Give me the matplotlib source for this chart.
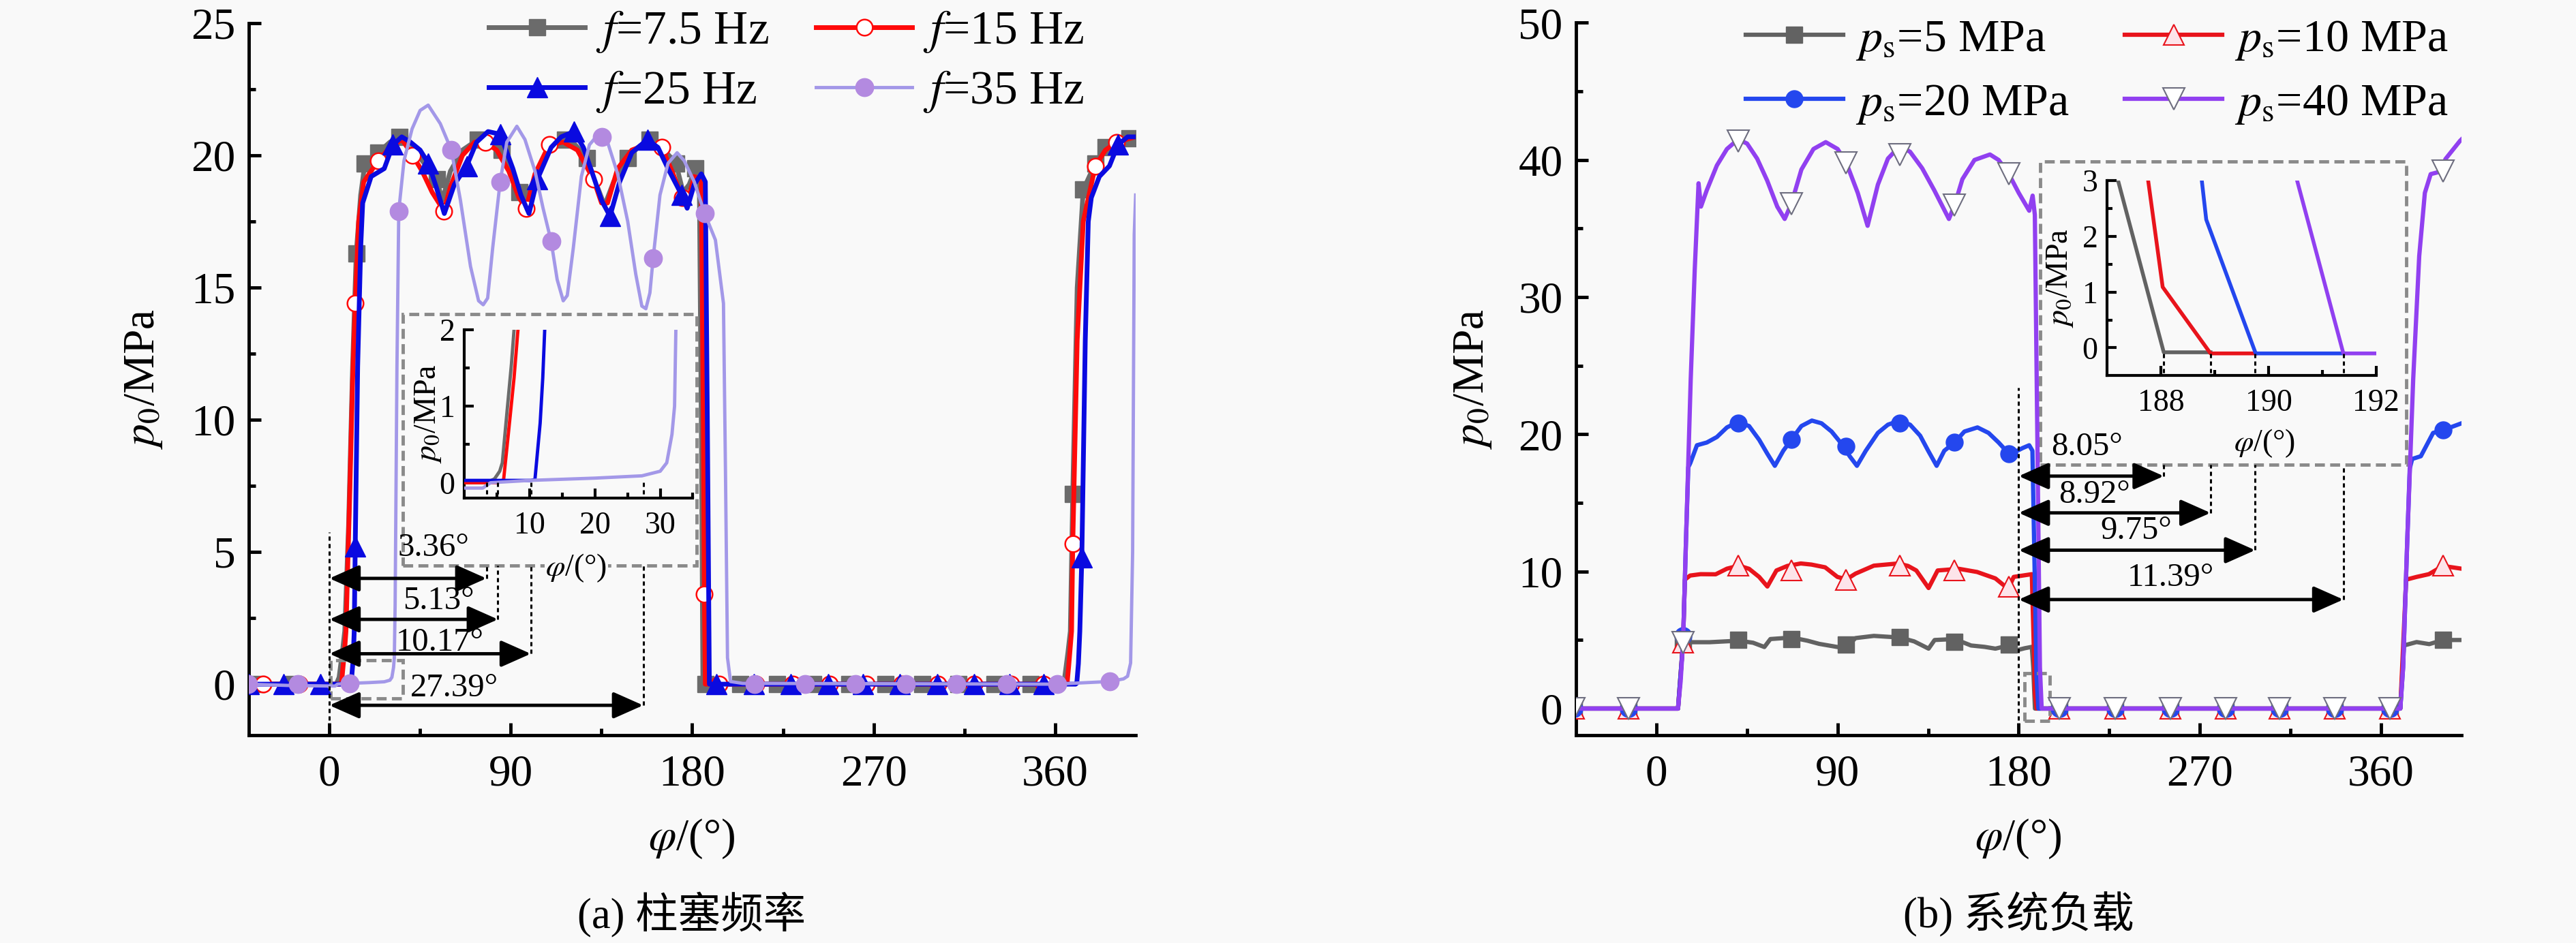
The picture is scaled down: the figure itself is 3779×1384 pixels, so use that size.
import matplotlib
matplotlib.use("Agg")
import matplotlib.pyplot as plt
from matplotlib.lines import Line2D
from matplotlib.patches import Rectangle
from matplotlib.ticker import FixedLocator

plt.rcParams['font.family'] = ['Liberation Serif', 'Noto Sans CJK SC']
plt.rcParams['mathtext.fontset'] = 'stix'
plt.rcParams['axes.unicode_minus'] = False

BG = '#f9f9f9'

# ---------------- (a) plunger frequency ----------------
phi_f75 = [-40, 3.4, 4.8, 6.4, 7.6, 9.5, 11.5, 13.3, 15.5, 17.6, 24.1, 30, 34.9, 40, 46,
           53.2, 56, 60, 66, 73.7, 80, 85.6, 90, 94.2, 97.5, 102, 109, 116.9, 122, 127.7,
           132, 136.5, 141, 148.2, 153, 158.9, 165, 171.9, 175.5, 178.5, 181.6, 183.5, 184.5,
           185.3, 363.4, 364.8, 366.4, 367.6, 368.8, 371, 374, 380, 385, 392, 400]
p_f75 = [0, 0, 0.26, 1.2, 2.0, 6, 12, 16.3, 18.5, 19.7, 20.1, 20.5, 20.7, 20.5, 19.8,
         19.1, 18.3, 19.4, 20.2, 20.6, 20.5, 20.2, 19.4, 18.6, 18.1, 19.2, 20.2, 20.6, 20.4, 19.9,
         19.0, 18.1, 19.0, 19.9, 20.3, 20.6, 20.3, 19.7, 18.6, 18.9, 19.5, 19.2, 10,
         0, 0, 0.26, 1.2, 2.0, 7.2, 15, 18.7, 19.7, 20.3, 20.6, 20.7]
mk_phi_f75 = [-36, -18, 13.3, 17.6, 24.1, 34.9, 53.2, 73.7, 85.6, 94.2, 116.9, 127.7, 148.2,
              158.9, 171.9, 181.6, 186.5, 204, 222, 240, 258, 276, 294, 312, 330, 348,
              368.8, 374, 380, 385, 397]
mk_p_f75 = [0, 0, 16.3, 19.7, 20.1, 20.7, 19.1, 20.6, 20.2, 18.6, 20.6, 19.9, 19.9,
            20.6, 19.7, 19.5, 0, 0, 0, 0, 0, 0, 0, 0, 0, 0,
            7.2, 18.7, 19.7, 20.3, 20.65]

phi_f15 = [-40, 5.13, 6.0, 6.8, 7.6, 8.2, 10, 11.5, 12.8, 14.5, 17, 24.2, 30, 36, 41.3,
           46, 51, 56.8, 60, 66, 72, 77.2, 83, 89, 94, 97.6, 102, 109, 116, 123,
           131, 135, 138, 143, 150, 157, 164.9, 170, 175, 177.5, 181, 184.5, 185.5, 186, 186.5,
           365.1, 366, 366.8, 368.2, 368.8, 371, 374, 380, 385, 390.4, 400]
p_f15 = [0, 0, 0.04, 0.7, 1.37, 2.0, 7, 11.5, 14.4, 17.5, 19.0, 19.8, 20.3, 20.6, 20.0,
         19.4, 18.6, 17.9, 18.8, 20.0, 20.5, 20.5, 20.2, 19.4, 18.4, 18.0, 19.3, 20.4, 20.5, 20.2,
         19.1, 18.2, 18.2, 19.5, 20.2, 20.4, 20.3, 19.4, 18.4, 18.2, 19.2, 19.1, 10, 3.4, 0,
         0, 0.04, 0.7, 2.0, 5.3, 13, 17.5, 19.6, 20.2, 20.5, 20.7]
mk_phi_f15 = [-33, -15, 12.8, 24.2, 41.3, 56.8, 77.2, 97.6, 109, 131, 164.9, 175, 186,
              193.4, 211.6, 230, 248, 266.5, 284, 302, 320, 338, 354.5, 368.8, 380, 390.4]
mk_p_f15 = [0, 0, 14.4, 19.8, 20.0, 17.9, 20.5, 18.0, 20.4, 19.1, 20.3, 18.4, 3.4,
            0, 0, 0, 0, 0, 0, 0, 0, 0, 0, 5.3, 19.6, 20.5]

phi_f25 = [-40, 10.17, 10.8, 11.6, 12.0, 12.3, 12.8, 14, 15.5, 16.5, 20.7, 27.2, 31.5, 35.9,
           40.2, 45, 49.1, 53, 57, 62, 68.1, 73, 78.7, 84.7, 91, 95, 99, 103.2, 110, 115,
           121.4, 126, 131, 135, 139.2, 144, 150, 157.8, 163, 168, 174.8, 177.5, 181, 184.5,
           186.5, 187.5, 188.5, 370.2, 370.8, 371.6, 372.3, 373.3, 375, 376.5, 378, 382, 387,
           391.2, 396, 400]
p_f25 = [0, 0, 0.04, 0.78, 1.37, 2.0, 5.2, 12, 16.5, 18.2, 19.2, 19.5, 20.4, 20.7,
         20.5, 20.2, 19.7, 18.8, 17.8, 18.9, 19.6, 20.5, 20.9, 20.8, 19.5, 18.5, 17.8, 19.1, 20.3, 20.7,
         20.9, 20.3, 19.2, 18.3, 17.7, 19.0, 20.1, 20.6, 20.3, 19.5, 18.5, 18.0, 18.9, 19.3,
         19.0, 10, 0, 0, 0.04, 0.78, 2.0, 4.8, 13, 17.5, 18.4, 19.2, 19.6,
         20.4, 20.7, 20.7]
mk_phi_f25 = [-40, -22.7, -4.4, 12.8, 31.5, 49.1, 68.1, 84.7, 103.2, 121.4, 139.2, 157.8, 174.8,
              192, 210.6, 229, 247.5, 264.8, 283, 301.6, 320, 337.4, 354.5, 373.3, 391.2]
mk_p_f25 = [0, 0, 0, 5.2, 20.4, 19.7, 19.6, 20.8, 19.1, 20.9, 17.7, 20.6, 18.5,
            0, 0, 0, 0, 0, 0, 0, 0, 0, 0, 4.8, 20.4]

phi_f35 = [-40, -20, 0, 2.8, 4, 10, 20, 27.2, 30, 31, 31.8, 32.2, 32.6, 33.5, 34.4, 37, 41, 45,
           49, 55, 60.5, 65, 70, 74, 76.3, 78.5, 81, 84.7, 88, 93, 97, 102, 106, 110, 113, 116,
           118, 121, 125, 129, 134.5, 138, 143, 148, 152, 155, 157, 159, 160.6, 164, 168, 172.5,
           176, 181, 186.2, 191.5, 195.5, 196.5, 197.5, 199, 205, 360, 387, 394, 396, 397.5,
           398.5, 399.3, 400]
p_f35 = [0, -0.05, -0.07, -0.07, 0, 0.03, 0.06, 0.09, 0.15, 0.26, 0.63, 1.0, 3, 12, 17.9, 19.8,
         21.0, 21.7, 21.9, 21.2, 20.2, 18.3, 15.8, 14.5, 14.35, 14.6, 16.5, 19.0, 20.5, 21.1, 20.6,
         19.4, 18.0, 16.75, 15.3, 14.5, 14.7, 16.5, 19.2, 20.4, 20.9, 20.5, 19.3, 17.5, 15.5, 14.3,
         14.2, 14.8, 16.1, 18.5, 19.7, 20.1, 19.8, 19.0, 17.8, 16.8, 14.4, 8, 1, 0.1, 0.03, 0,
         0.1, 0.2, 0.3, 0.8, 5, 17, 18.5]
mk_phi_f35 = [-40.5, -15.5, 9.9, 34.4, 60.5, 84.7, 110, 135.3, 160.6, 186.2, 211, 236, 261,
              286, 311, 336, 361, 387]
mk_p_f35 = [0, 0, 0.03, 17.9, 20.2, 19.0, 16.75, 20.7, 16.1, 17.8, 0, 0, 0, 0, 0, 0, 0, 0.1]

# zoomed rise (inset of a)
ins_phi_f75 = [0, 3.36, 4.6, 5.4, 5.8, 6.6, 7.2, 7.6]
ins_p_f75 = [0.0, 0.0, 0.05, 0.15, 0.26, 1.0, 1.55, 2.0]
ins_phi_f15 = [0, 5.13, 6.0, 6.8, 7.6, 8.2]
ins_p_f15 = [0.0, 0.0, 0.04, 0.7, 1.37, 2.0]
ins_phi_f25 = [0, 10.17, 10.8, 11.6, 12.0, 12.3]
ins_p_f25 = [0.03, 0.03, 0.04, 0.78, 1.37, 2.0]
ins_phi_f35 = [0, 2.8, 4, 10, 20, 27.2, 30, 31, 31.8, 32.2, 32.4]
ins_p_f35 = [-0.07, -0.07, 0, 0.03, 0.06, 0.09, 0.15, 0.26, 0.63, 1.0, 2.0]
delay_a = [3.36, 5.13, 10.17, 27.39]

# ---------------- (b) system load ----------------
phi_p5 = [-40, 10.7, 12, 13.2, 16.7, 26.4, 40.9, 48, 53.6, 56.6, 67.2, 75, 80.8, 89.9, 94.4,
          98.9, 108, 121, 128, 132.1, 135.2, 138.2, 148.2, 156.3, 163, 168.4, 175, 179, 183,
          186.5, 187.2, 188.05, 369.6, 371.4, 377.7, 384, 390.8, 400]
p_p5 = [0, 0, 2.5, 4.8, 4.84, 4.84, 4.95, 4.8, 4.49, 5.07, 5.18, 4.95, 4.72, 4.49, 4.49,
        5.14, 5.3, 5.18, 4.9, 4.6, 4.37, 5.0, 5.07, 4.6, 4.5, 4.37, 4.6, 4.25, 4.4,
        4.5, 3.0, 0, 0, 4.6, 4.85, 4.7, 5.0, 5.0]
phi_p10 = [-40, 10.7, 13.2, 14.1, 16.7, 21.9, 29.4, 35, 40.9, 46, 51, 55.1, 59.6, 65, 71.7,
           77, 83.8, 89.9, 94.4, 98.9, 108, 120, 125, 129.1, 135.2, 139.7, 150.3, 159.3, 168.4,
           172.5, 175, 177.5, 182, 186.5, 187.76, 188.03, 188.92, 369.6, 372.5, 377.7, 383.8,
           390.8, 400]
p_p10 = [0, 0, 4.84, 9.4, 9.7, 9.8, 9.79, 10.2, 10.42, 10.19, 9.6, 8.9, 10.07, 10.4, 10.58,
         10.5, 10.3, 9.6, 9.42, 9.84, 10.42, 10.58, 10.4, 10.07, 8.79, 10.07, 10.19, 9.96, 9.49,
         9.0, 8.8, 9.6, 9.7, 9.8, 3.0, 1.09, 0, 0, 9.4, 9.6, 9.8,
         10.4, 10.2]
phi_p20 = [-40, 10.7, 13.2, 14.7, 15.8, 16.8, 20.1, 25, 30, 35, 40.5, 46, 51, 55, 58.8, 63, 67,
           72, 77.2, 82, 87, 92, 96, 99.6, 104, 110, 115, 120.8, 126, 131, 135, 139.2, 143,
           148.1, 153, 159.5, 165, 170, 175, 178, 182, 185.2, 186.8, 188.6, 188.76, 188.84,
           189.76, 369.6, 371, 373, 374.3, 375.5, 379.8, 385.9, 390.8, 400]
p_p20 = [0, 0, 4.84, 12.5, 17.6, 17.9, 19.2, 19.4, 19.8, 20.5, 20.9, 20.6, 19.6, 18.6, 17.7, 18.8,
         19.6, 20.6, 21.0, 20.8, 20.2, 19.3, 18.4, 17.7, 18.8, 20.1, 20.7, 21.0, 20.7, 19.9, 18.8,
         17.7, 18.8, 19.4, 20.2, 20.5, 20.1, 19.4, 18.6, 18.7, 19.0, 19.2, 18.8, 4.5, 2.98, 2.3,
         0, 0, 3, 12, 17.5, 18.2, 18.4, 20.1, 20.3, 20.8]
phi_p40 = [-40, 10.7, 12, 13.2, 15, 17, 19, 20.9, 22.1, 25, 30, 35, 40.5, 45, 50, 55, 60, 63.7,
           67, 72, 78, 84.1, 90, 94.3, 100, 104.9, 110, 115, 120.8, 126, 132, 138, 145.3, 148.1,
           152, 158, 165.7, 170, 175, 180, 185.2, 186.9, 188, 190.3, 190.53, 191.39, 369.6, 371,
           373, 376, 379, 381.8, 384.7, 390.8, 392, 399.3, 400]
p_p40 = [0, 0, 2, 4.84, 14, 24, 32, 38.3, 36.6, 37.8, 39.6, 40.8, 41.5, 41.2, 40.1, 38.5, 36.6,
         35.7, 36.8, 39.3, 40.8, 41.3, 40.8, 39.8, 37.6, 35.2, 38.2, 40.1, 41.0, 40.6, 39.4, 37.8,
         35.7, 36.7, 38.6, 40.0, 40.4, 40.0, 39.0, 37.6, 36.3, 37.4, 36, 6, 3.0, 0, 0, 3,
         12, 24, 33, 37.6, 38.97, 39.2, 40.06, 41.4, 41.5]
mk_phi_ps = [-41, -13.8, 13.2, 40.5, 67, 94.3, 120.8, 148.1, 175, 200.3, 228, 255.4, 282.7,
             309.6, 337, 364.3, 390.8]
mk_p_p5 = [0, 0, 4.8, 5.0, 5.05, 4.66, 5.2, 4.85, 4.66, 0, 0, 0, 0, 0, 0, 0, 5.0]
mk_p_p10 = [0, 0, 4.84, 10.45, 10.1, 9.4, 10.45, 10.1, 8.9, 0, 0, 0, 0, 0, 0, 0, 10.45]
mk_p_p20 = [0, 0, 5.3, 20.8, 19.6, 19.1, 20.8, 19.4, 18.6, 0, 0, 0, 0, 0, 0, 0, 20.3]
mk_p_p40 = [0, 0, 4.84, 41.4, 36.8, 39.8, 40.4, 36.7, 39.0, 0, 0, 0, 0, 0, 0, 0, 39.2]

# zoomed fall (inset of b)
ins_phi_p5 = [187.2, 188.05, 188.92]
ins_p_p5 = [3.0, -0.08, -0.08]
ins_phi_p10 = [187.76, 188.03, 188.92, 189.76]
ins_p_p10 = [3.0, 1.09, -0.1, -0.1]
ins_phi_p20 = [188.76, 188.84, 189.76, 191.39]
ins_p_p20 = [2.98, 2.3, -0.1, -0.1]
ins_phi_p40 = [190.53, 191.39, 192.0]
ins_p_p40 = [3.0, -0.1, -0.1]
delay_b = [8.05, 8.92, 9.75, 11.39]

labels_a = [r'$f$=7.5 Hz', r'$f$=15 Hz', r'$f$=25 Hz', r'$f$=35 Hz']
labels_b = [r'$p_\mathrm{s}$=5 MPa', r'$p_\mathrm{s}$=10 MPa',
            r'$p_\mathrm{s}$=20 MPa', r'$p_\mathrm{s}$=40 MPa']

# ---------------- styles ----------------
sty_a = [
    dict(color='#6b6b6b', lw=5, marker='s', ms=17, mfc='#6b6b6b', mec='#6b6b6b', mew=1),
    dict(color='#ff0a0a', lw=5, marker='o', ms=17, mfc='white', mec='#ff0a0a', mew=1.8),
    dict(color='#0a0ae0', lw=5, marker='^', ms=21, mfc='#0a0ae0', mec='#0a0ae0', mew=1),
    dict(color='#a398e8', lw=3.5, marker='o', ms=19, mfc='#b38ae0', mec='#b38ae0', mew=1),
]
sty_b = [
    dict(color='#626262', lw=4.5, marker='s', ms=17, mfc='#626262', mec='#626262', mew=1),
    dict(color='#e8141c', lw=4.5, marker='^', ms=22, mfc='#fde4ea', mec='#e8141c', mew=1.5),
    dict(color='#2447ee', lw=4.5, marker='o', ms=18, mfc='#2447ee', mec='#2447ee', mew=1),
    dict(color='#9140f0', lw=4.5, marker='v', ms=23, mfc='white', mec='#6e6e80', mew=1.5),
]

W, H = 3780, 1384
TICK = 47
LEG = 50


def px_box(x0, y0, x1, y1):
    return [x0 / W, 1 - y1 / H, (x1 - x0) / W, (y1 - y0) / H]


def style_axes(ax, lw=3.5, major=13, minor=7, size=TICK, xpad=20, ypad=14):
    for s in ('top', 'right'):
        ax.spines[s].set_visible(False)
    for s in ('left', 'bottom'):
        ax.spines[s].set_linewidth(lw)
    ax.tick_params(which='both', direction='in', width=lw, labelsize=size)
    ax.tick_params(which='major', length=major)
    ax.tick_params(which='minor', length=minor)
    ax.tick_params(axis='x', pad=xpad)
    ax.tick_params(axis='y', pad=ypad)


def draw_series(ax, phi, p, mphi, mp, st, z):
    ax.plot(phi, p, color=st['color'], lw=st['lw'], zorder=z, solid_joinstyle='round')
    ax.plot(mphi, mp, ls='none', marker=st['marker'], ms=st['ms'], mfc=st['mfc'],
            mec=st['mec'], mew=st['mew'], zorder=z + 0.5)


def handle(st):
    return Line2D([], [], color=st['color'], lw=st['lw'], marker=st['marker'], ms=st['ms'],
                  mfc=st['mfc'], mec=st['mec'], mew=st['mew'])


def dim_arrow(ax, x0, x1, y):
    ax.annotate('', xy=(x1, y), xytext=(x0, y), zorder=8,
                arrowprops=dict(arrowstyle='<|-|>,head_length=0.45,head_width=0.2',
                                color='k', lw=3.5, shrinkA=0, shrinkB=0, mutation_scale=60))


dash_box = dict(fill=False, ec='#8a8a8a', lw=3.5, ls=(0, (3, 1.6)), zorder=4)
dot = dict(color='k', lw=2.2, ls=(0, (2, 1.6)), zorder=7)

fig = plt.figure(figsize=(W / 100, H / 100), dpi=100, facecolor=BG)

# ======== panel (a) ========
axL = fig.add_axes(px_box(365, 34, 1666, 1079), facecolor=BG)
style_axes(axL)
axL.set_xlim(-40, 400)
axL.set_ylim(-1.93, 25)
axL.xaxis.set_major_locator(FixedLocator([0, 90, 180, 270, 360]))
axL.xaxis.set_minor_locator(FixedLocator([45, 135, 225, 315]))
axL.yaxis.set_major_locator(FixedLocator([0, 5, 10, 15, 20, 25]))
axL.yaxis.set_minor_locator(FixedLocator([2.5, 7.5, 12.5, 17.5, 22.5]))

series_a = [(phi_f75, p_f75, mk_phi_f75, mk_p_f75), (phi_f15, p_f15, mk_phi_f15, mk_p_f15),
            (phi_f25, p_f25, mk_phi_f25, mk_p_f25), (phi_f35, p_f35, mk_phi_f35, mk_p_f35)]
for i, (ph, pp, mph, mpp) in enumerate(series_a):
    draw_series(axL, ph, pp, mph, mpp, sty_a[i], 2 + i)

# zoom box + inset
insA_box = [67, 7.04, 113.3, 6.37]
axL.add_patch(Rectangle((36.5, 4.48), 182.3 - 36.5, 14.0 - 4.48, **dash_box))
axL.add_patch(Rectangle((0.6, -0.55), 36.5 - 0.6, 0.9 + 0.55, **dash_box))
insA = axL.inset_axes(insA_box, transform=axL.transData, facecolor=BG)
style_axes(insA, lw=3, major=10, minor=6, size=33, xpad=14, ypad=10)
insA.set_xlim(0, 35)
insA.set_ylim(-0.2, 2)
insA.xaxis.set_major_locator(FixedLocator([10, 20, 30]))
insA.xaxis.set_minor_locator(FixedLocator([5, 15, 25, 35]))
insA.yaxis.set_major_locator(FixedLocator([0, 1, 2]))
insA.yaxis.set_minor_locator(FixedLocator([0.5, 1.5]))
ins_a = [(ins_phi_f75, ins_p_f75), (ins_phi_f15, ins_p_f15),
         (ins_phi_f25, ins_p_f25), (ins_phi_f35, ins_p_f35)]
for i, (ph, pp) in enumerate(ins_a):
    insA.plot(ph, pp, color=sty_a[i]['color'], lw=3.5, zorder=2 + i)
for v in delay_a:
    insA.plot([v, v], [0, -0.2], **dot)
insA.set_ylabel(r'$p_0$/MPa', fontsize=33)
insA.yaxis.set_label_coords(-0.16, 0.5)
insA.yaxis.label.set_va('center')
insA.set_xlabel(r'$\varphi$/(°)', fontsize=33)
insA.xaxis.set_label_coords(0.49, -0.415)
insA.xaxis.label.set_va('center')
insA.xaxis.label.set_bbox(dict(facecolor=BG, edgecolor='none', pad=1))

# delay arrows
arrow_y_a = [4.0, 2.45, 1.15, -0.8]
text_xy_a = [(51.5, 5.15), (54.2, 3.15), (54.9, 1.58), (62, -0.15)]
axL.plot([0, 0], [-1.93, 5.75], **dot)
for v, ya, (tx, ty) in zip(delay_a, arrow_y_a, text_xy_a):
    xe = insA_box[0] + v / 35 * insA_box[2]
    dim_arrow(axL, 0, xe, ya)
    axL.plot([xe, xe], [ya, 4.48], **dot)
    axL.text(tx, ty, f'{v:.2f}°', fontsize=35, ha='center', va='center', zorder=9)

axL.legend([handle(sty_a[0]), handle(sty_a[2]), handle(sty_a[1]), handle(sty_a[3])],
           [labels_a[0], labels_a[2], labels_a[1], labels_a[3]],
           ncol=2, loc='upper left', bbox_to_anchor=(0.2706, 1.02), frameon=False,
           fontsize=LEG, handlelength=2.03, handletextpad=0.23, columnspacing=1.0,
           labelspacing=0.3, borderpad=0, borderaxespad=0)

# ======== panel (b) ========
axR = fig.add_axes(px_box(2312, 33.5, 3611, 1079), facecolor=BG)
style_axes(axR)
axR.set_xlim(-40, 400)
axR.set_ylim(-1.94, 50)
axR.xaxis.set_major_locator(FixedLocator([0, 90, 180, 270, 360]))
axR.xaxis.set_minor_locator(FixedLocator([45, 135, 225, 315]))
axR.yaxis.set_major_locator(FixedLocator([0, 10, 20, 30, 40, 50]))
axR.yaxis.set_minor_locator(FixedLocator([5, 15, 25, 35, 45]))

series_b = [(phi_p5, p_p5, mk_p_p5), (phi_p10, p_p10, mk_p_p10),
            (phi_p20, p_p20, mk_p_p20), (phi_p40, p_p40, mk_p_p40)]
for i, (ph, pp, mpp) in enumerate(series_b):
    draw_series(axR, ph, pp, mk_phi_ps, mpp, sty_b[i], 2 + i)

insB_box = [224, 24.27, 133.6, 14.23]
axR.add_patch(Rectangle((190.8, 17.8), 372.5 - 190.8, 39.9 - 17.8, **dash_box))
axR.add_patch(Rectangle((183, -0.9), 195.5 - 183, 2.6 + 0.9, **dash_box))
insB = axR.inset_axes(insB_box, transform=axR.transData, facecolor=BG)
style_axes(insB, lw=3, major=10, minor=6, size=33, xpad=14, ypad=10)
insB.set_xlim(187, 192)
insB.set_ylim(-0.5, 3)
insB.xaxis.set_major_locator(FixedLocator([188, 190, 192]))
insB.xaxis.set_minor_locator(FixedLocator([189, 191]))
insB.yaxis.set_major_locator(FixedLocator([0, 1, 2, 3]))
insB.yaxis.set_minor_locator(FixedLocator([0.5, 1.5, 2.5]))
ins_b = [(ins_phi_p5, ins_p_p5), (ins_phi_p10, ins_p_p10),
         (ins_phi_p20, ins_p_p20), (ins_phi_p40, ins_p_p40)]
for i, (ph, pp) in enumerate(ins_b):
    insB.plot(ph, pp, color=sty_b[i]['color'], lw=4, zorder=2 + i)
for v in delay_b:
    insB.plot([180 + v, 180 + v], [-0.1, -0.5], **dot)
insB.set_ylabel(r'$p_0$/MPa', fontsize=33)
insB.yaxis.set_label_coords(-0.177, 0.5)
insB.yaxis.label.set_va('center')
insB.set_xlabel(r'$\varphi$/(°)', fontsize=33)
insB.xaxis.set_label_coords(0.585, -0.346)
insB.xaxis.label.set_va('center')

arrow_y_b = [16.95, 14.27, 11.55, 7.95]
text_xy_b = [(214, 19.05), (217.5, 15.6), (238.5, 12.95), (255.6, 9.55)]
axR.plot([180, 180], [-1.94, 23.4], **dot)
for v, ya, (tx, ty) in zip(delay_b, arrow_y_b, text_xy_b):
    xe = insB_box[0] + (180 + v - 187) / 5 * insB_box[2]
    dim_arrow(axR, 180, xe, ya)
    axR.plot([xe, xe], [ya, 17.8], **dot)
    axR.text(tx, ty, f'{v:.2f}°', fontsize=35, ha='center', va='center', zorder=9)

axR.legend([handle(sty_b[0]), handle(sty_b[2]), handle(sty_b[1]), handle(sty_b[3])],
           [labels_b[0], labels_b[2], labels_b[1], labels_b[3]],
           ncol=2, loc='upper left', bbox_to_anchor=(0.1917, 1.006), frameon=False,
           fontsize=49, handlelength=2.1, handletextpad=0.26, columnspacing=1.2,
           labelspacing=0.45, borderpad=0, borderaxespad=0)

# ======== labels & captions ========
for xc, yl_x, cap in [(1015, 211, '(a) 柱塞频率'), (2961, 2161, '(b) 系统负载')]:
    fig.text(yl_x / W, 1 - 556 / H, r'$p_0$/MPa', rotation=90, ha='center', va='center',
             fontsize=47)
    fig.text(xc / W, 1 - 1231 / H, r'$\varphi$/(°)', ha='center', va='center', fontsize=47)
    fig.text(xc / W, 1 - 1342 / H, cap, ha='center', va='center', fontsize=45)

fig.savefig('out.png', dpi=100, facecolor=BG)
